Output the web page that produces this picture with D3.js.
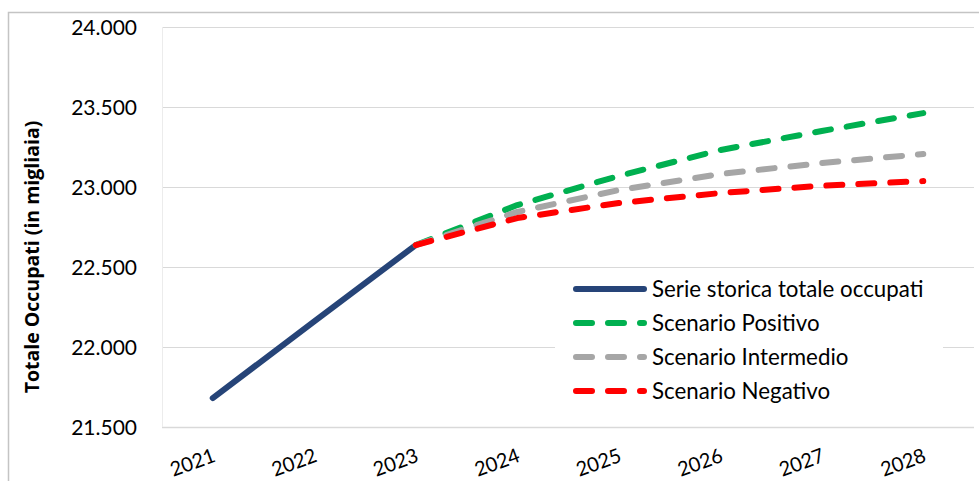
<!DOCTYPE html>
<html>
<head>
<meta charset="utf-8">
<script src="https://cdn.jsdelivr.net/npm/d3@7"></script>
<style>
  body { margin: 0; background: #fff; }
  text { font-family: Lato, "Open Sans", sans-serif; fill: #000; }
</style>
</head>
<body>
<div id="chart"></div>
<script>
// categorie e serie (migliaia di occupati)
var years = ["2021", "2022", "2023", "2024", "2025", "2026", "2027", "2028"];
var storica = [21681, 22160, 22637, null, null, null, null, null];
var positivo = [null, null, 22637, 22887, 23069, 23231, 23350, 23462];
var intermedio = [null, null, 22637, 22844, 22981, 23081, 23150, 23206];
var negativo = [null, null, 22637, 22806, 22900, 22962, 23008, 23037];
var yTicks = [21500, 22000, 22500, 23000, 23500, 24000];

var series = [
    { name: "Serie storica totale occupati", values: storica, color: "#264478", dash: null },
    { name: "Scenario Positivo", values: positivo, color: "#00b050", dash: "16,16" },
    { name: "Scenario Intermedio", values: intermedio, color: "#a6a6a6", dash: "16,16" },
    { name: "Scenario Negativo", values: negativo, color: "#ff0000", dash: "16,16" }
];

var W = 979, H = 481;
var plot = { left: 162, right: 974, top: 27, bottom: 427 };

var svg = d3.select("#chart").append("svg")
    .attr("width", W)
    .attr("height", H);

// bordo esterno del grafico
svg.append("rect")
    .attr("x", 8.5).attr("y", 12.5)
    .attr("width", W + 20).attr("height", H + 20)
    .attr("fill", "none")
    .attr("stroke", "#c4c4c4")
    .attr("stroke-width", 1.5);

var x = d3.scalePoint().domain(years).range([plot.left, plot.right]).padding(0.5);
var y = d3.scaleLinear().domain([21500, 24000]).range([plot.bottom, plot.top]);

var it = d3.formatLocale({ decimal: ",", thousands: ".", grouping: [3], currency: ["€", ""] });
var fmt = it.format(",d");

// griglia
svg.append("g").selectAll("line")
    .data(yTicks)
    .join("line")
    .attr("x1", plot.left).attr("x2", plot.right)
    .attr("y1", d => Math.round(y(d)) + 0.5).attr("y2", d => Math.round(y(d)) + 0.5)
    .attr("stroke", "#d9d9d9")
    .attr("stroke-width", d => d == 21500 ? 1.5 : 1);

svg.append("line")
    .attr("x1", plot.left + 0.5).attr("x2", plot.left + 0.5)
    .attr("y1", plot.top).attr("y2", plot.bottom)
    .attr("stroke", "#ececec");

// asse y
svg.append("g").selectAll("text")
    .data(yTicks)
    .join("text")
    .attr("x", 137)
    .attr("y", d => y(d) + 1)
    .attr("dy", "0.35em")
    .attr("text-anchor", "end")
    .style("font-size", "21px")
    .text(d => fmt(d));

svg.append("text")
    .attr("transform", "translate(39," + ((plot.top + plot.bottom) / 2 + 30) + ") rotate(-90)")
    .attr("text-anchor", "middle")
    .style("font-family", "'Open Sans', sans-serif")
    .style("font-size", "19.5px")
    .style("font-weight", "bold")
    .text("Totale Occupati (in migliaia)");

// asse x, etichette inclinate
svg.append("g").selectAll("text")
    .data(years)
    .join("text")
    .attr("transform", d => "translate(" + (x(d) + 4) + ",461) rotate(-20)")
    .attr("text-anchor", "end")
    .style("font-size", "20px")
    .text(d => d);

// linee
var line = d3.line()
    .defined(d => d[1] != null)
    .x(d => x(d[0]))
    .y(d => y(d[1]));

svg.append("g").selectAll("path")
    .data(series)
    .join("path")
    .attr("d", s => line(years.map((yr, i) => [yr, s.values[i]])))
    .attr("fill", "none")
    .attr("stroke", s => s.color)
    .attr("stroke-width", 6)
    .attr("stroke-linecap", "round")
    .attr("stroke-linejoin", "round")
    .attr("stroke-dasharray", s => s.dash);

// legenda
var legend = svg.append("g").attr("transform", "translate(555,272)");
legend.append("rect")
    .attr("width", 388).attr("height", 136)
    .attr("fill", "#fff");

var rows = legend.selectAll("g.row")
    .data(series)
    .join("g")
    .attr("class", "row")
    .attr("transform", (d, i) => "translate(0," + (17 + i * 34) + ")");

rows.append("line")
    .attr("x1", 21).attr("x2", 89)
    .attr("stroke", d => d.color)
    .attr("stroke-width", 6)
    .attr("stroke-linecap", "round")
    .attr("stroke-dasharray", d => d.dash);

rows.append("text")
    .attr("x", 97)
    .attr("dy", "0.35em")
    .style("font-size", "22.3px")
    .text(d => d.name);
</script>
</body>
</html>
